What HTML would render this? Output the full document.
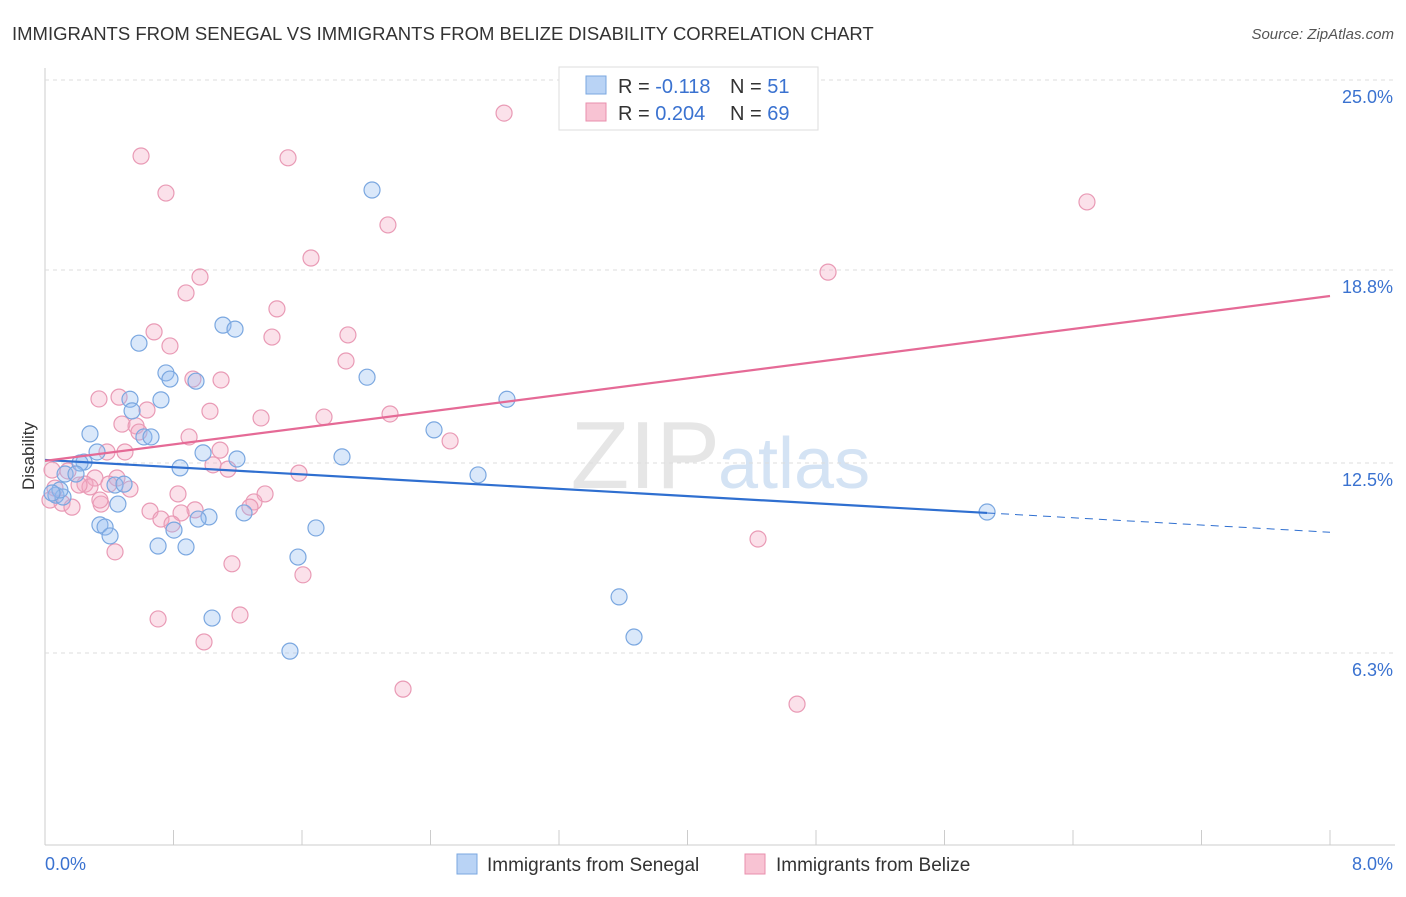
<!DOCTYPE html>
<html><head><meta charset="utf-8"><style>
body{margin:0;background:#fff;font-family:"Liberation Sans",sans-serif}
svg text{font-family:"Liberation Sans",sans-serif}
</style></head><body>
<svg id="c" width="1406" height="892">
<text x="12" y="40" font-size="18.5" fill="#333">IMMIGRANTS FROM SENEGAL VS IMMIGRANTS FROM BELIZE DISABILITY CORRELATION CHART</text>
<text x="1394" y="39" font-size="15" fill="#555" text-anchor="end" font-style="italic">Source: ZipAtlas.com</text>
<text x="720" y="488" font-size="96" fill="#e6e6e6" text-anchor="end" font-family="Liberation Serif">ZIP</text>
<text x="718" y="488" font-size="72" fill="#d4e3f4">atlas</text>
<text x="34" y="456" font-size="17" fill="#333" transform="rotate(-90 34 456)" text-anchor="middle">Disability</text>
<g id="grid"></g><g id="pts"></g><g id="lines"></g>
<g>
<rect x="559" y="67" width="259" height="63" fill="#fff" stroke="#ddd"/>
<rect x="586" y="76" width="20" height="18" fill="#b9d3f5" stroke="#7aa7e0"/>
<rect x="586" y="103" width="20" height="18" fill="#f8c3d3" stroke="#e98fad"/>
<text x="618" y="93" font-size="20" fill="#333">R = <tspan fill="#3a72d0">-0.118</tspan></text>
<text x="730" y="93" font-size="20" fill="#333">N = <tspan fill="#3a72d0"> 51</tspan></text>
<text x="618" y="120" font-size="20" fill="#333">R = <tspan fill="#3a72d0">0.204</tspan></text>
<text x="730" y="120" font-size="20" fill="#333">N = <tspan fill="#3a72d0">69</tspan></text>
</g>
<g>
<rect x="457" y="854" width="20" height="20" fill="#b9d3f5" stroke="#7aa7e0"/>
<text x="487" y="871" font-size="19" fill="#333">Immigrants from Senegal</text>
<rect x="745" y="854" width="20" height="20" fill="#f8c3d3" stroke="#e98fad"/>
<text x="776" y="871" font-size="19" fill="#333">Immigrants from Belize</text>
</g>
</svg>
<script>
const yTicks=[25.0,18.8,12.5,6.3];
const yTickLabels=["25.0%","18.8%","12.5%","6.3%"];
const xTicks=[0,0.8,1.6,2.4,3.2,4.0,4.8,5.6,6.4,7.2,8.0];
const blueX=[2.036,1.108,1.183,0.585,0.753,0.778,0.940,2.005,0.529,0.722,2.876,0.542,0.280,0.616,0.660,2.422,0.324,0.984,1.849,1.195,0.243,0.218,0.841,2.696,0.125,0.193,0.436,0.492,0.068,0.112,0.454,1.239,1.021,0.953,0.342,0.374,1.687,0.405,0.803,0.704,0.878,1.575,1.040,3.574,3.667,1.525,5.865,0.093,0.044];
const blueY=[21.41,17.0,16.87,16.41,15.44,15.24,15.17,15.30,14.58,14.56,14.58,14.20,13.45,13.35,13.35,13.58,12.86,12.83,12.70,12.63,12.53,12.50,12.34,12.11,12.14,12.14,11.78,11.81,11.45,11.39,11.16,10.87,10.74,10.67,10.48,10.41,10.38,10.12,10.31,9.79,9.76,9.43,7.44,8.13,6.82,6.36,10.90,11.62,11.52];
const pinkX=[2.858,0.598,1.513,0.753,6.487,2.135,1.656,4.875,0.965,0.878,1.444,0.679,1.886,1.413,0.778,1.874,0.921,1.096,0.336,0.461,0.635,1.027,2.148,1.345,1.737,0.479,0.567,0.585,0.897,2.522,1.090,0.386,0.498,1.046,1.139,1.581,0.311,0.448,0.143,0.249,0.280,0.398,0.529,0.828,1.370,0.106,0.168,0.349,1.301,0.654,0.934,1.276,0.847,0.722,0.791,4.439,0.436,1.164,1.606,0.704,1.214,0.990,2.229,4.682,0.031,0.062,0.212,0.342,0.044];
const pinkY=[23.92,22.52,22.46,21.31,21.02,20.27,19.19,18.73,18.57,18.05,17.53,16.78,16.68,16.61,16.32,15.83,15.24,15.21,14.59,14.65,14.23,14.19,14.10,13.97,14.00,13.77,13.71,13.51,13.35,13.22,12.92,12.86,12.86,12.44,12.30,12.17,12.01,12.01,12.24,11.81,11.72,11.81,11.65,11.49,11.49,11.19,11.06,11.16,11.23,10.93,10.97,11.06,10.87,10.67,10.51,10.02,9.60,9.21,8.85,7.41,7.54,6.66,5.12,4.63,11.29,11.68,11.78,11.29,12.27];
const blueTrend=[12.60,-0.295];
const blueSolidEnd=5.865;
const pinkTrend=[12.57,0.6725];
const X=v=>45+v/8*1285;
const Y=v=>463-(v-12.5)*30.64;
const NS="http://www.w3.org/2000/svg";
function mk(t,a,p){const e=document.createElementNS(NS,t);for(const k in a)e.setAttribute(k,a[k]);p.appendChild(e);return e;}
const g=document.getElementById('grid');
let ax=mk('line',{x1:45,y1:68,x2:45,y2:845,stroke:'#ccc'},g);


let bx=mk('line',{x1:45,y1:845,x2:1395,y2:845,stroke:'#ccc'},g);


yTicks.forEach((v,i)=>{
 const l=mk('line',{x1:45,y1:Y(v),x2:1395,y2:Y(v),stroke:'#ddd','stroke-dasharray':'4,4'},g);
 
 
 const t=mk('text',{x:1393,y:Y(v)+23,'font-size':18,fill:'#3a72d0','text-anchor':'end'},g);
 t.textContent=yTickLabels[i];
 
 
});
xTicks.forEach(v=>{
 const l=mk('line',{x1:X(v),y1:830,x2:X(v),y2:845,stroke:'#ccc'},g);
 
 
});
let t0=mk('text',{x:45,y:870,'font-size':18,fill:'#3a72d0'},g);t0.textContent='0.0%';


let t1=mk('text',{x:1393,y:870,'font-size':18,fill:'#3a72d0','text-anchor':'end'},g);t1.textContent='8.0%';


const P=document.getElementById('pts');
pinkX.forEach((x,i)=>{
 const c=mk('circle',{cx:X(x),cy:Y(pinkY[i]),r:8,fill:'rgba(244,170,195,0.35)',stroke:'#e99ab5','stroke-width':1.2},P);
 
 
});
blueX.forEach((x,i)=>{
 const c=mk('circle',{cx:X(x),cy:Y(blueY[i]),r:8,fill:'rgba(150,190,240,0.35)',stroke:'#7aa7e0','stroke-width':1.2},P);
 
 
});
const L=document.getElementById('lines');
const bf=x=>blueTrend[0]+blueTrend[1]*x, pf=x=>pinkTrend[0]+pinkTrend[1]*x;
let b1=mk('line',{x1:X(0),y1:Y(bf(0)),x2:X(blueSolidEnd),y2:Y(bf(blueSolidEnd)),stroke:'#2f6fd0','stroke-width':2.2},L);


let b2=mk('line',{x1:X(blueSolidEnd),y1:Y(bf(blueSolidEnd)),x2:X(8),y2:Y(bf(8)),stroke:'#2f6fd0','stroke-width':1,'stroke-dasharray':'8,6'},L);


let p1=mk('line',{x1:X(0),y1:Y(pf(0)),x2:X(8),y2:Y(pf(8)),stroke:'#e56a96','stroke-width':2.2},L);


</script>
</body></html>
